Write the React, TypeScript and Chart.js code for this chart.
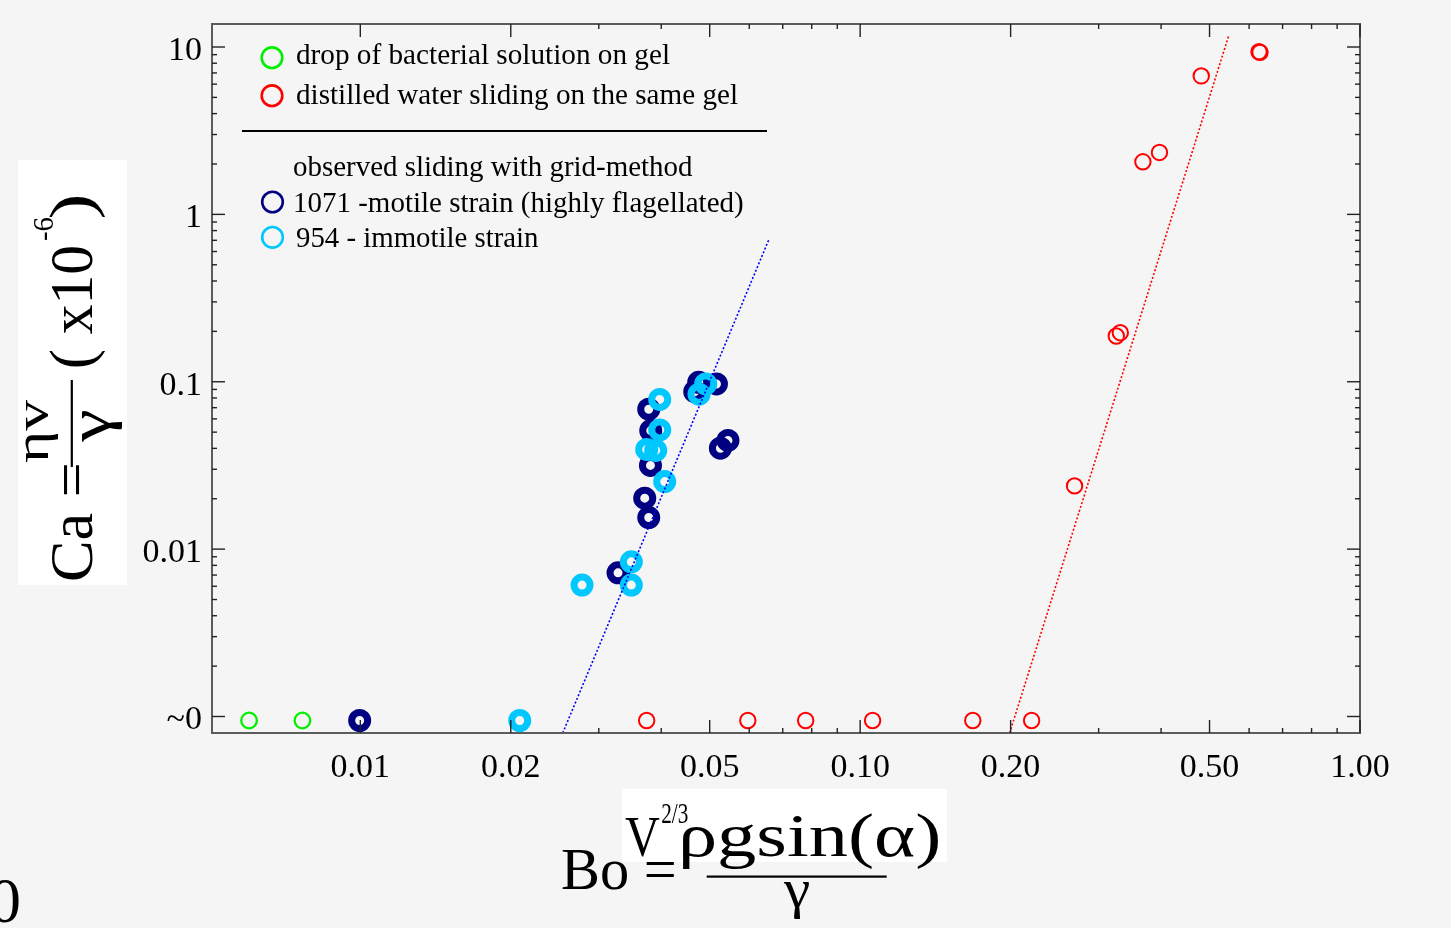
import React, { useEffect, useRef } from "react";
import { Chart, registerables } from "chart.js";

Chart.register(...registerables);

// ---------------- data ----------------
const xTickValues = [0.01, 0.02, 0.05, 0.1, 0.2, 0.5, 1.0];
const xTickLabels = ["0.01", "0.02", "0.05", "0.10", "0.20", "0.50", "1.00"];
const xMinorTicks = [0.03, 0.04, 0.06, 0.07, 0.08, 0.09, 0.3, 0.4, 0.6, 0.7, 0.8, 0.9];
const yTickValues = [0.001, 0.01, 0.1, 1, 10];
const yTickLabels = ["~0", "0.01", "0.1", "1", "10"];
const yMinorTicks = [
  0.002, 0.003, 0.004, 0.005, 0.006, 0.007, 0.008, 0.009,
  0.02, 0.03, 0.04, 0.05, 0.06, 0.07, 0.08, 0.09,
  0.2, 0.3, 0.4, 0.5, 0.6, 0.7, 0.8, 0.9,
  2, 3, 4, 5, 6, 7, 8, 9,
];

// drop of bacterial solution on gel (green)
const greenBo = [0.00599, 0.00766];
const greenCa = [0.001, 0.001];

// distilled water sliding on the same gel (red)
const redBo = [0.0374, 0.0596, 0.0778, 0.1059, 0.168, 0.2203, 0.2685, 0.3254, 0.3315, 0.3678, 0.397, 0.4813, 0.628, 0.631];
const redCa = [0.001, 0.001, 0.001, 0.001, 0.001, 0.001, 0.02522, 0.1983, 0.2075, 2.178, 2.477, 7.1, 9.9, 9.82];

// 1071 - motile strain (navy)
const navyBo = [0.03776, 0.03811, 0.03806, 0.03707, 0.03776, 0.03278, 0.04753, 0.04667, 0.05158, 0.05439, 0.05253, 0.00997];
const navyCa = [0.0724, 0.05395, 0.03343, 0.0213, 0.01632, 0.007628, 0.1049, 0.09222, 0.1025, 0.04714, 0.04234, 0.001];

// 954 - immotile strain (cyan)
const cyanBo = [0.03972, 0.03972, 0.03741, 0.03899, 0.04064, 0.03485, 0.03485, 0.02777, 0.0476, 0.04909, 0.02084];
const cyanCa = [0.08284, 0.05446, 0.04165, 0.04108, 0.02676, 0.008872, 0.006442, 0.006442, 0.08898, 0.1025, 0.001];

// dotted trend lines
const blueFitBo = [0.02541, 0.06561];
const blueFitCa = [0.000842, 0.742];
const redFitBo = [0.1991, 0.5458];
const redFitCa = [0.000842, 12.26];

// ---------------- helpers ----------------
const SERIF = '"Liberation Serif", "Times New Roman", serif';
const pairs = (xs: number[], ys: number[]) => xs.map((x, i) => ({ x, y: ys[i] }));

function inkText(ctx: CanvasRenderingContext2D, text: string, x: number, y: number, size: number, width?: number) {
  ctx.save();
  ctx.font = `${size}px ${SERIF}`;
  ctx.textAlign = "left";
  ctx.textBaseline = "alphabetic";
  ctx.fillStyle = "#000";
  const m = ctx.measureText(text);
  const ink = m.actualBoundingBoxLeft + m.actualBoundingBoxRight;
  const sx = width && ink > 0 ? width / ink : 1;
  ctx.translate(x, y);
  ctx.scale(sx, 1);
  ctx.fillText(text, m.actualBoundingBoxLeft, 0);
  ctx.restore();
}

const decorPlugin = {
  id: "decor",
  beforeDraw(chart: any) {
    const ctx = chart.ctx as CanvasRenderingContext2D;
    ctx.save();
    ctx.fillStyle = "#f5f5f5";
    ctx.fillRect(0, 0, chart.width, chart.height);
    ctx.restore();
  },
  afterDraw(chart: any) {
    const ctx = chart.ctx as CanvasRenderingContext2D;
    const a = chart.chartArea;
    const xs = chart.scales.x;
    const ys = chart.scales.y;
    ctx.save();

    // frame
    ctx.strokeStyle = "#5c5c5c";
    ctx.lineWidth = 2;
    ctx.strokeRect(a.left, a.top, a.right - a.left, a.bottom - a.top);

    // inward ticks on all four sides
    ctx.strokeStyle = "#222";
    ctx.lineWidth = 1.4;
    const seg = (x1: number, y1: number, x2: number, y2: number) => {
      ctx.beginPath();
      ctx.moveTo(x1, y1);
      ctx.lineTo(x2, y2);
      ctx.stroke();
    };
    const MAJ = 13, MIN = 5;
    xTickValues.forEach((v) => {
      const px = xs.getPixelForValue(v);
      seg(px, a.bottom, px, a.bottom - MAJ);
      seg(px, a.top, px, a.top + MAJ);
    });
    xMinorTicks.forEach((v) => {
      const px = xs.getPixelForValue(v);
      seg(px, a.bottom, px, a.bottom - MIN);
      seg(px, a.top, px, a.top + MIN);
    });
    const yOff = -4;
    yTickValues.forEach((v) => {
      const py = ys.getPixelForValue(v) + yOff;
      seg(a.left, py, a.left + MAJ, py);
      seg(a.right, py, a.right - MAJ, py);
    });
    yMinorTicks.forEach((v) => {
      const py = ys.getPixelForValue(v) + yOff;
      if (py < a.top || py > a.bottom) return;
      seg(a.left, py, a.left + MIN, py);
      seg(a.right, py, a.right - MIN, py);
    });

    // legend
    const circ = (cx: number, cy: number, color: string) => {
      ctx.beginPath();
      ctx.arc(cx, cy, 10.3, 0, Math.PI * 2);
      ctx.strokeStyle = color;
      ctx.lineWidth = 2.6;
      ctx.stroke();
    };
    circ(272, 57.7, "#00f000");
    circ(272, 95.7, "#ff0000");
    circ(272.5, 202, "#000080");
    circ(272.5, 237.3, "#00c8ff");
    inkText(ctx, "drop of bacterial solution on gel", 297, 64.3, 29, 373);
    inkText(ctx, "distilled water sliding on the same gel", 297, 104.3, 29, 441);
    ctx.fillStyle = "#000";
    ctx.fillRect(242, 130, 525, 2);
    inkText(ctx, "observed sliding with grid-method", 294, 175.7, 29, 399);
    inkText(ctx, "1071 -motile strain (highly flagellated)", 295, 211.5, 29, 448);
    inkText(ctx, "954 - immotile strain", 296, 246.5, 29, 243);

    // y-axis title (rotated)
    ctx.fillStyle = "#ffffff";
    ctx.fillRect(18, 160, 109, 425);
    ctx.fillStyle = "#000";
    ctx.fillRect(70.7, 380, 2.2, 87);
    ctx.save();
    ctx.rotate(-Math.PI / 2);
    inkText(ctx, "Ca =", -580, 92, 62, 115);
    inkText(ctx, "ηv", -463, 48, 48, 63);
    inkText(ctx, "γ", -443, 109, 60, 33);
    inkText(ctx, "( x10", -367, 92, 62, 120);
    inkText(ctx, "-6", -240, 53, 30, 23);
    inkText(ctx, ")", -217, 92, 62, 20);
    ctx.restore();

    // x-axis title
    ctx.fillStyle = "#ffffff";
    ctx.fillRect(622, 789, 325, 73);
    inkText(ctx, "Bo =", 562, 889, 60, 112);
    inkText(ctx, "V", 625, 856, 58, 35);
    inkText(ctx, "2/3", 662, 823, 29, 26);
    inkText(ctx, "ρgsin(α)", 683, 856, 62, 255);
    ctx.fillStyle = "#000";
    ctx.fillRect(706.7, 875.5, 180, 2.2);
    inkText(ctx, "γ", 783, 907, 55, 27);

    // stray glyph at bottom-left edge
    ctx.font = `64px ${SERIF}`;
    const m0 = ctx.measureText("0");
    ctx.fillStyle = "#000";
    ctx.textAlign = "left";
    ctx.textBaseline = "alphabetic";
    ctx.fillText("0", 19 - m0.actualBoundingBoxRight, 922);

    ctx.restore();
  },
};

function buildConfig(): any {
  const font = { family: SERIF, size: 34 };
  return {
    type: "scatter",
    data: {
      datasets: [
        {
          label: "fit 1071/954",
          type: "line",
          data: pairs(blueFitBo, blueFitCa),
          borderColor: "#0000ff",
          borderWidth: 1.6,
          borderDash: [2, 2],
          pointRadius: 0,
          showLine: true,
          fill: false,
        },
        {
          label: "fit water",
          type: "line",
          data: pairs(redFitBo, redFitCa),
          borderColor: "#ff0000",
          borderWidth: 1.6,
          borderDash: [2, 2],
          pointRadius: 0,
          showLine: true,
          fill: false,
        },
        {
          label: "954 - immotile strain",
          data: pairs(cyanBo, cyanCa),
          pointRadius: 8,
          pointBorderWidth: 7,
          pointBorderColor: "#00c8ff",
          pointBackgroundColor: "rgba(0,0,0,0)",
        },
        {
          label: "1071 -motile strain (highly flagellated)",
          data: pairs(navyBo, navyCa),
          pointRadius: 8,
          pointBorderWidth: 7,
          pointBorderColor: "#000080",
          pointBackgroundColor: "rgba(0,0,0,0)",
        },
        {
          label: "drop of bacterial solution on gel",
          data: pairs(greenBo, greenCa),
          pointRadius: 7.8,
          pointBorderWidth: 2.3,
          pointBorderColor: "#00f000",
          pointBackgroundColor: "rgba(0,0,0,0)",
        },
        {
          label: "distilled water sliding on the same gel",
          data: pairs(redBo, redCa),
          pointRadius: 7.7,
          pointBorderWidth: 2,
          pointBorderColor: "#ff0000",
          pointBackgroundColor: "rgba(0,0,0,0)",
        },
      ],
    },
    options: {
      animation: false,
      responsive: false,
      events: [],
      layout: { padding: { left: 0, top: 24, right: 91, bottom: 0 } },
      plugins: { legend: { display: false }, tooltip: { enabled: false } },
      scales: {
        x: {
          type: "logarithmic",
          position: "bottom",
          min: 0.00505,
          max: 1.0,
          bounds: "data",
          afterBuildTicks: (s: any) => {
            s.ticks = xTickValues.map((v) => ({ value: v }));
          },
          afterFit: (s: any) => {
            s.height = 195;
            s.paddingLeft = 0;
            s.paddingRight = 0;
            s.paddingTop = 0;
            s.paddingBottom = 0;
          },
          grid: { display: false, drawTicks: false },
          border: { display: false },
          ticks: {
            autoSkip: false,
            maxRotation: 0,
            minRotation: 0,
            padding: 15,
            color: "#000",
            font,
            callback: (_v: any, i: number) => xTickLabels[i],
          },
        },
        y: {
          type: "logarithmic",
          position: "left",
          min: 0.000842,
          max: 14.5,
          bounds: "data",
          afterBuildTicks: (s: any) => {
            s.ticks = yTickValues.map((v) => ({ value: v }));
          },
          afterFit: (s: any) => {
            s.width = 212;
            s.paddingLeft = 0;
            s.paddingRight = 0;
            s.paddingTop = 0;
            s.paddingBottom = 0;
          },
          grid: { display: false, drawTicks: false },
          border: { display: false },
          ticks: {
            autoSkip: false,
            padding: 10,
            color: "#000",
            font,
            callback: (_v: any, i: number) => yTickLabels[i],
          },
        },
      },
    },
    plugins: [decorPlugin],
  };
}

export default function App() {
  const ref = useRef<HTMLCanvasElement>(null);
  useEffect(() => {
    if (!ref.current) return;
    const chart = new Chart(ref.current, buildConfig());
    return () => chart.destroy();
  }, []);
  return (
    <div style={{ position: "fixed", left: 0, top: 0, width: 1451, height: 928, background: "#f5f5f5" }}>
      <canvas ref={ref} width={1451} height={928} style={{ display: "block", width: 1451, height: 928 }} />
    </div>
  );
}
